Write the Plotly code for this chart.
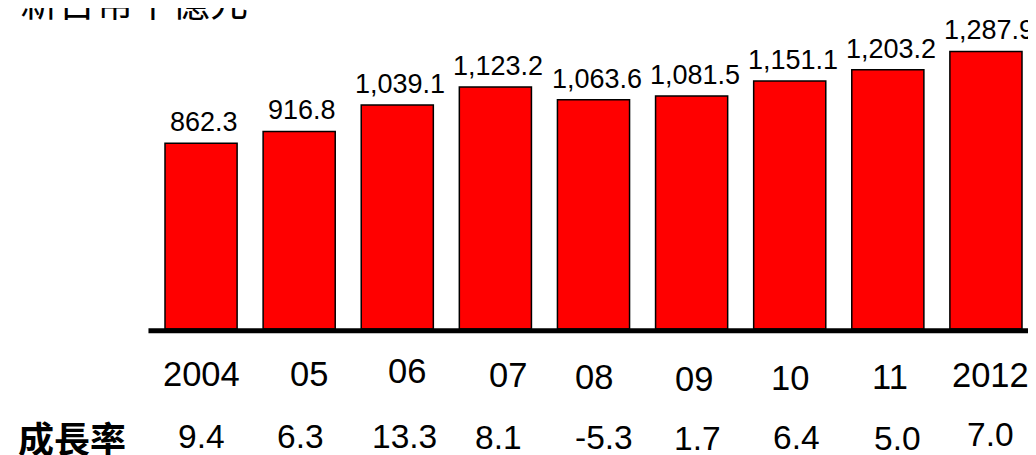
import plotly.graph_objects as go

# ---- data ----
categories = ["2004", "05", "06", "07", "08", "09", "10", "11", "2012"]
values = [862.3, 916.8, 1039.1, 1123.2, 1063.6, 1081.5, 1151.1, 1203.2, 1287.9]
value_labels = ["862.3", "916.8", "1,039.1", "1,123.2", "1,063.6", "1,081.5", "1,151.1", "1,203.2", "1,287.9"]
growth = ["9.4", "6.3", "13.3", "8.1", "-5.3", "1.7", "6.4", "5.0", "7.0"]
unit_label = "新台幣千億元"
growth_label = "成長率"

# ---- layout tweaks (pixel offsets for label placement, page pixels) ----
tick_dx = [0, 10, 10, 13, 0, 2, 0, 2, 5]
tick_cy = [374, 373.5, 371, 374.5, 376.5, 378.5, 378, 376.5, 375]
growth_dx = [0, 1, 7, 3, 10, 6, 7, 10, 5]
growth_cy = [436.5, 436.5, 436, 437, 437.5, 438, 437.5, 438, 434.5]

OFF = 8  # page body margin: figure is drawn 8px right/down of page origin
W, H = 1036 - OFF, 455 - OFF
ML, MR, MT = 152 - OFF, W - (1035 - OFF), 0
BASE_PAGE = 329
BASE = BASE_PAGE - OFF          # figure pixel y of value 0
MB = H - BASE
PW = W - ML - MR
PH = BASE - MT
PX_PER_UNIT = 0.2155

LAT = "Liberation Sans, Arial, sans-serif"
CJK = "Noto Sans CJK TC, sans-serif"

fig = go.Figure()
fig.add_trace(go.Bar(
    x=categories, y=values,
    marker=dict(color="#FF0000", line=dict(color="black", width=1.5)),
    hoverinfo="skip",
))

ann = []
for i, (v, lab) in enumerate(zip(values, value_labels)):
    ann.append(dict(x=i, y=v, xref="x", yref="y", text=lab, showarrow=False,
                    yanchor="bottom", xanchor="center", yshift=4, xshift=3,
                    font=dict(family=LAT, size=27, color="black")))
for i, (c, dx, cy) in enumerate(zip(categories, tick_dx, tick_cy)):
    ann.append(dict(x=i, y=0, xref="x", yref="paper", text=c, showarrow=False,
                    yanchor="middle", xanchor="center", xshift=dx, yshift=-(cy - BASE_PAGE),
                    font=dict(family=LAT, size=34.5, color="black")))
for i, (g, dx, cy) in enumerate(zip(growth, growth_dx, growth_cy)):
    ann.append(dict(x=i, y=0, xref="x", yref="paper", text=g, showarrow=False,
                    yanchor="middle", xanchor="center", xshift=dx, yshift=-(cy - BASE_PAGE),
                    font=dict(family=LAT, size=33.5, color="black")))
ann.append(dict(x=(72 - OFF - ML) / PW, y=0, xref="paper", yref="paper",
                text="<b>" + growth_label + "</b>", showarrow=False,
                yanchor="middle", xanchor="center", yshift=-(437 - BASE_PAGE),
                font=dict(family=CJK, size=36, color="black")))
ann.append(dict(x=(134 - OFF - ML) / PW, y=1, xref="paper", yref="paper",
                text=unit_label, showarrow=False, yanchor="middle", xanchor="center",
                yshift=OFF + 1, font=dict(family=CJK, size=38, color="black")))

line_y = -1.8 / PH
fig.update_layout(
    width=W, height=H,
    margin=dict(l=ML, r=MR, t=MT, b=MB, autoexpand=False),
    paper_bgcolor="white", plot_bgcolor="white",
    showlegend=False, bargap=0.265,
    xaxis=dict(type="category", showticklabels=False, showgrid=False, zeroline=False,
               showline=False, ticks="", range=[-0.5, 8.5]),
    yaxis=dict(visible=False, range=[0, BASE / PX_PER_UNIT], showgrid=False, zeroline=False),
    annotations=ann,
    shapes=[dict(type="line", xref="paper", yref="paper", x0=-0.004, x1=1.02,
                 y0=line_y, y1=line_y,
                 line=dict(color="black", width=5), layer="above")],
)

fig.write_html("out.html")
